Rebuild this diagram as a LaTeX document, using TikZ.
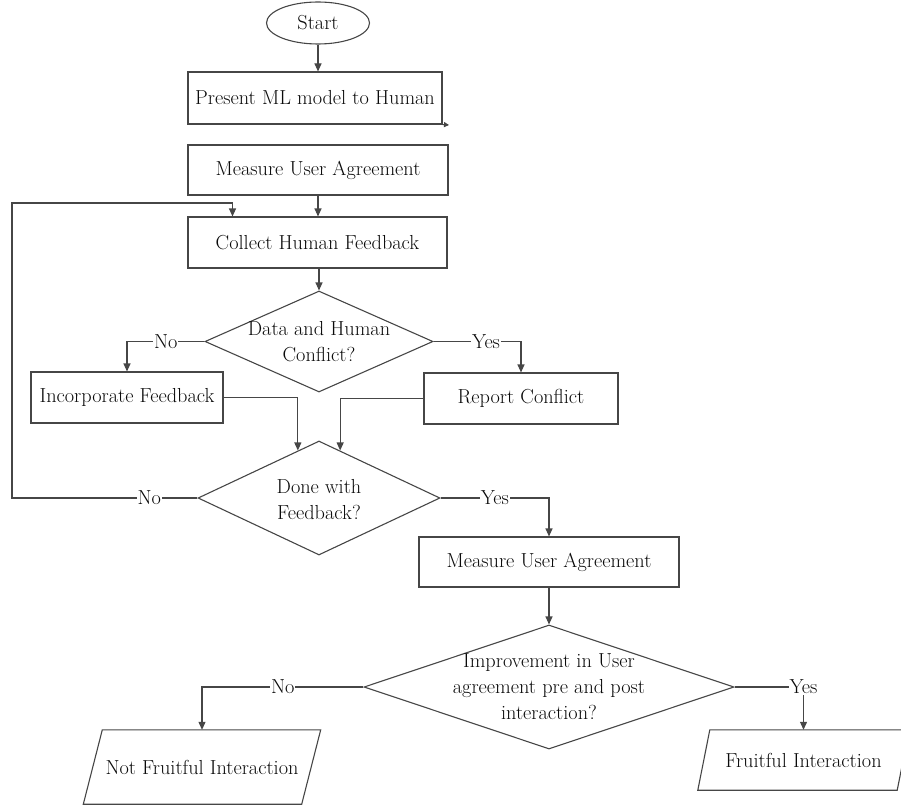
\documentclass[tikz,border=0pt]{standalone}
\usepackage{fontspec}
\usepackage{xcolor}
\usepackage{tikz}
\usetikzlibrary{shapes.geometric,arrows.meta}
\definecolor{linegray}{RGB}{70,70,70}
\definecolor{textgray}{RGB}{10,10,10}

\begin{document}
\begin{tikzpicture}[x=1pt,y=-1pt,font=\fontsize{20.3}{26}\selectfont,text=textgray,
    box/.style={draw=linegray,line width=1.1pt,rectangle,inner sep=0pt},
    dec/.style={draw=linegray,line width=1.1pt,diamond,inner sep=0pt},
    txt/.style={align=center,inner sep=0pt},
    lbl/.style={fill=white,inner sep=1pt},
    edge/.style={draw=linegray,line width=1.1pt},
    flow/.style={edge,-{Triangle[length=8pt,width=7pt]}}]
    \useasboundingbox (0,0) rectangle (901,805);
    \node[draw=linegray,line width=1.1pt,ellipse,inner sep=0pt,minimum width=103pt,minimum height=42pt] (start) at (318,23) {Start};
    \node[box,minimum width=254pt,minimum height=52pt] (present) at (315,98) {Present ML model to Human};
    \node[box,minimum width=260pt,minimum height=50pt] (measA) at (318,170) {Measure User Agreement};
    \node[box,minimum width=259pt,minimum height=51pt] (collect) at (317.5,242.5) {Collect Human Feedback};
    \node[dec,minimum width=228pt,minimum height=101pt] (d1) at (319,341.5) {};
    \node[txt] (d1t) at (d1) {Data and Human\\Conflict?};
    \node[box,minimum width=192pt,minimum height=51pt] (incorp) at (127,397.5) {Incorporate Feedback};
    \node[box,minimum width=194pt,minimum height=51pt] (report) at (521,398.5) {Report Conflict};
    \node[dec,minimum width=242pt,minimum height=114pt] (d2) at (319,498) {};
    \node[txt] (d2t) at (319,500) {Done with\\Feedback?};
    \node[box,minimum width=260pt,minimum height=50pt] (measB) at (549,562) {Measure User Agreement};
    \node[dec,minimum width=370pt,minimum height=124pt] (d3) at (549,687) {};
    \node[txt] (d3t) at (d3) {Improvement in User\\agreement pre and post\\interaction?};
    \node[txt,minimum width=218pt,minimum height=74pt] (nofruit) at (202,767) {Not Fruitful Interaction};
    \node[txt,minimum width=199pt,minimum height=60pt] (fruit) at (803.5,760) {Fruitful Interaction};
    \draw[edge] ([xshift=9.5pt]nofruit.north west) -- ([xshift=9.5pt]nofruit.north east) -- ([xshift=-9.5pt]nofruit.south east) -- ([xshift=-9.5pt]nofruit.south west) -- cycle;
    \draw[edge] ([xshift=6pt]fruit.north west) -- ([xshift=6pt]fruit.north east) -- ([xshift=-6pt]fruit.south east) -- ([xshift=-6pt]fruit.south west) -- cycle;
    \coordinate (stub) at (449,125);
    \coordinate (loop) at (12,203);
    \draw[flow] (start) to (start |- present.north);
    \draw[edge,-{Triangle[length=5pt,width=5pt]}] (present.south east) to (stub);
    \draw[flow] (measA) to (measA |- collect.north);
    \draw[flow] (d1.north |- collect.south) to (d1.north);
    \draw[flow] (d1.west) -| node[lbl,pos=0.25] {No} (incorp.north);
    \draw[flow] (d1.east) -| node[lbl,pos=0.3] {Yes} (report.north);
    \draw[flow] (incorp.east) -| (d2.114);
    \draw[flow] (report.west) -| (d2.66);
    \draw[flow] (d2.west) -- node[lbl,pos=0.26] {No} (loop |- d2.west) -- (loop) -| ([xshift=-85pt]collect.north);
    \draw[flow] (d2.east) -| node[lbl,pos=0.25] {Yes} (measB.north);
    \draw[flow] (measB) to (d3);
    \draw[flow] (d3.west) -| node[lbl,pos=0.25] {No} (nofruit.north);
    \draw[flow] (d3.east) -| node[lbl,pos=0.5] {Yes} (fruit.north);
\end{tikzpicture}
\end{document}
